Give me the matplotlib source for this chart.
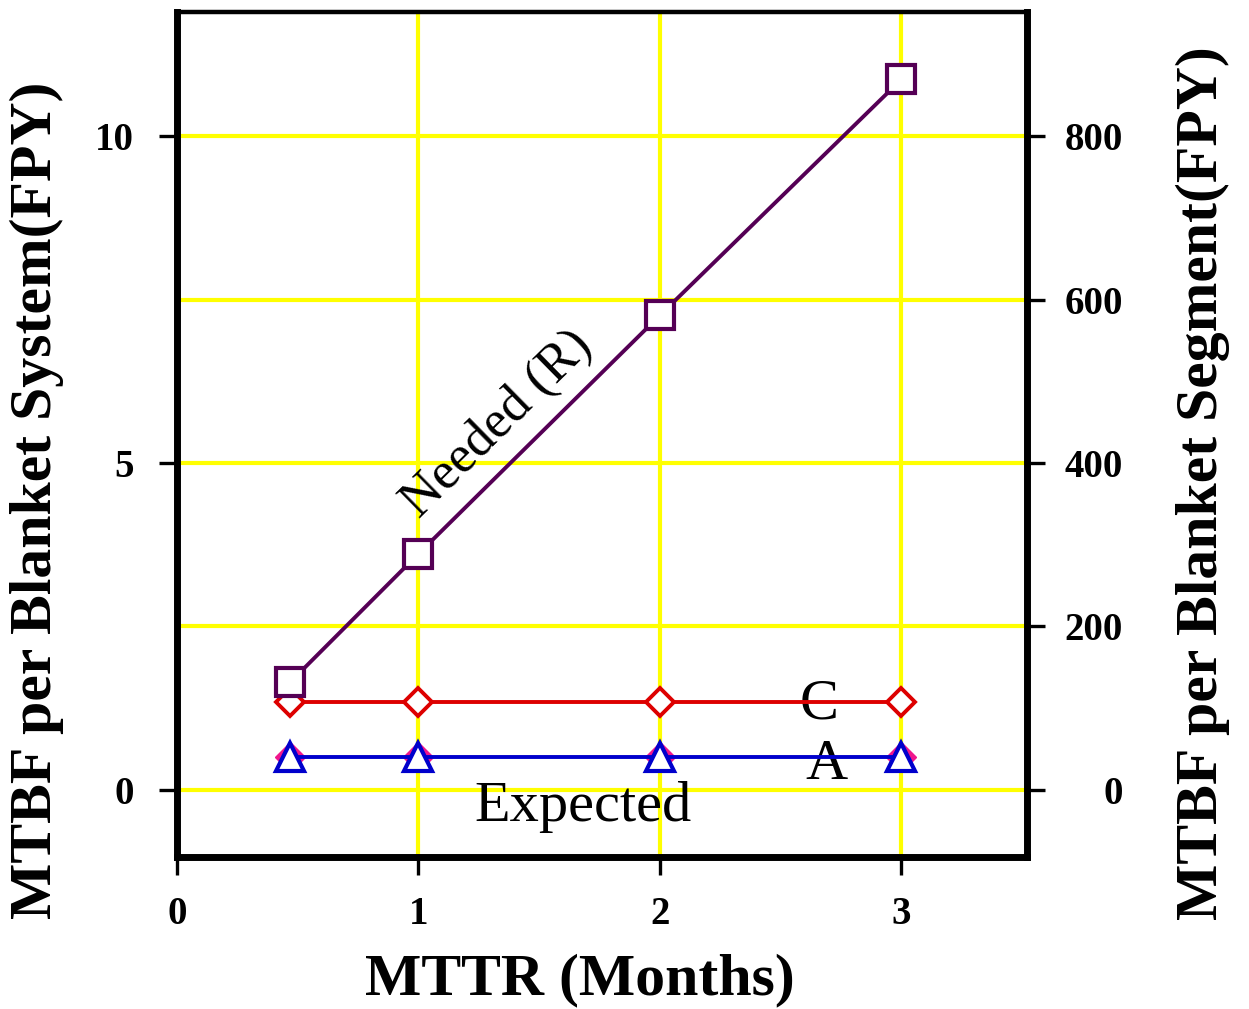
import numpy as np
import matplotlib.pyplot as plt

# data
mttr = [0.47, 1, 2, 3]
needed_r = [1.65, 3.61, 7.26, 10.87]
expected_c = [1.35, 1.35, 1.35, 1.35]
expected_a = [0.5, 0.5, 0.5, 0.5]

left_ticks = [0, 5, 10]
right_ticks = [0, 200, 400, 600, 800]
x_ticks = [0, 1, 2, 3]
scale = 80.0  # segment FPY per system FPY

plt.rcParams['font.family'] = ['Liberation Serif', 'DejaVu Serif']

fig = plt.figure(figsize=(12.49, 10.09), dpi=100)
ax = fig.add_axes([0.1417, 0.1506, 0.6806, 0.8375])
ax.set_xlim(0, 3.52)
ax.set_ylim(-1.03, 11.9)

# grid in yellow behind the data
ax.set_xticks(x_ticks)
ax.set_yticks(left_ticks)
ax.set_yticks([t / scale for t in right_ticks], minor=True)
ax.grid(True, which='both', color='#ffff00', linewidth=3, zorder=0)
ax.set_axisbelow(True)
ax.tick_params(axis='y', which='minor', length=0)

lw = 2.8
ax.plot(mttr, expected_a, linestyle='none', marker='D', markersize=15,
        color='#f0168c', zorder=3)
ax.plot(mttr, expected_a, color='#0000cc', linewidth=lw, marker='^',
        markersize=20, markerfacecolor='white', markeredgecolor='#0000cc',
        markeredgewidth=3, zorder=4)
ax.plot(mttr, expected_c, color='#dd0000', linewidth=lw, marker='D',
        markersize=14, markerfacecolor='white', markeredgecolor='#dd0000',
        markeredgewidth=2.8, zorder=5)
ax.plot(mttr, needed_r, color='#550055', linewidth=lw, marker='s',
        markersize=20, markerfacecolor='white', markeredgecolor='#550055',
        markeredgewidth=3, zorder=6)

ax.text(1.325, 5.59, 'Needed (R)', fontsize=38, rotation=44.5,
        rotation_mode='anchor', ha='center', va='center')
ax.text(2.66, 1.30, 'C', fontsize=42, ha='center', va='center')
ax.text(2.69, 0.38, 'A', fontsize=42, ha='center', va='center')
ax.text(1.68, -0.26, 'Expected', fontsize=42, ha='center', va='center')

for side in ['left', 'bottom', 'right']:
    ax.spines[side].set_linewidth(5)
ax.spines['top'].set_linewidth(3.2)

ax.tick_params(axis='both', which='major', direction='out', length=13,
               width=2.4, labelsize=28)
ax.tick_params(axis='y', pad=18)
ax.tick_params(axis='x', pad=15)
for lab in ax.get_xticklabels() + ax.get_yticklabels():
    lab.set_fontweight('bold')

ax2 = ax.twinx()
ax2.set_ylim(-1.03 * scale, 11.9 * scale)
ax2.set_yticks(right_ticks)
ax2.tick_params(axis='y', direction='out', length=13, width=2.4,
                labelsize=28, pad=56)
for lab in ax2.get_yticklabels():
    lab.set_fontweight('bold')
    lab.set_horizontalalignment('right')
for s in ax2.spines.values():
    s.set_visible(False)

fig.text(580 / 1249, 1 - 980 / 1009, 'MTTR (Months)', fontsize=43,
         fontweight='bold', ha='center', va='center')
fig.text(37 / 1249, 1 - 500 / 1009, 'MTBF per Blanket System(FPY)',
         fontsize=43, fontweight='bold', rotation=90, ha='center', va='center')
fig.text(1203 / 1249, 1 - 483 / 1009, 'MTBF per Blanket Segment(FPY)',
         fontsize=43, fontweight='bold', rotation=90, ha='center', va='center')

fig.savefig('out.png', dpi=100)
